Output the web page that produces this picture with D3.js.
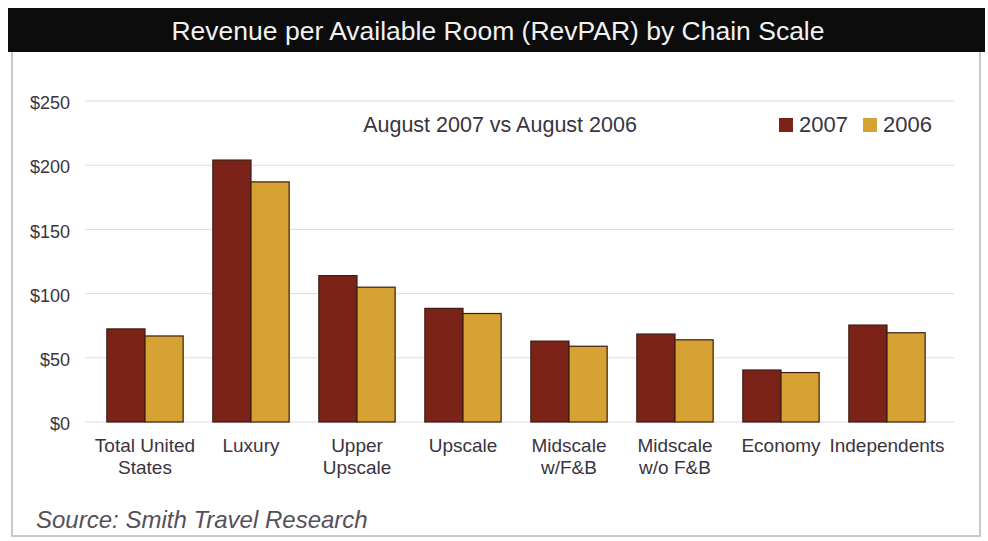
<!DOCTYPE html>
<html>
<head>
<meta charset="utf-8">
<script src="https://cdn.jsdelivr.net/npm/d3@7"></script>
<style>
  body { margin: 0; background: #fff; }
  text { font-family: "Liberation Sans", Arial, Helvetica, sans-serif; }
</style>
</head>
<body>
<div id="chart"></div>
<script>
// chart data
const categories = ['Total United States', 'Luxury', 'Upper Upscale', 'Upscale',
    'Midscale w/F&B', 'Midscale w/o F&B', 'Economy', 'Independents'];
const categoryLines = [['Total United', 'States'], ['Luxury'], ['Upper', 'Upscale'], ['Upscale'],
    ['Midscale', 'w/F&B'], ['Midscale', 'w/o F&B'], ['Economy'], ['Independents']];
const series = ['2007', '2006'];
const values2007 = [72.5, 204, 114, 88.5, 63, 68.5, 40.5, 75.5];
const values2006 = [67, 187, 105, 84.5, 59, 64, 38.5, 69.5];
const yTicks = [0, 50, 100, 150, 200, 250];

const colors = { '2007': '#7b2318', '2006': '#d5a233' };

const W = 988, H = 541;

const svg = d3.select('#chart')
    .append('svg')
    .attr('width', W)
    .attr('height', H);

// frame and title bar
svg.append('rect')
    .attr('x', 12).attr('y', 40)
    .attr('width', 968).attr('height', 496)
    .attr('fill', '#fff')
    .attr('stroke', '#b9b4c0')
    .attr('stroke-width', 1.5);

svg.append('rect')
    .attr('x', 8).attr('y', 8)
    .attr('width', 977).attr('height', 44)
    .attr('fill', '#0c0c0c');

svg.append('text')
    .attr('x', 498).attr('y', 40)
    .attr('text-anchor', 'middle')
    .attr('fill', '#f2f2f2')
    .style('font-size', '26.5px')
    .text('Revenue per Available Room (RevPAR) by Chain Scale');

// scales
const y = d3.scaleLinear()
    .domain([0, 250])
    .range([422, 101]);

const x0 = d3.scaleBand()
    .domain(categories)
    .range([92, 940])
    .paddingInner(0.28)
    .paddingOuter(0.14);

const x1 = d3.scaleBand()
    .domain(series)
    .range([0, x0.bandwidth()]);

// gridlines
svg.append('g')
    .selectAll('line')
    .data(yTicks)
    .enter().append('line')
    .attr('x1', 85).attr('x2', 954)
    .attr('y1', d => y(d)).attr('y2', d => y(d))
    .attr('stroke', '#dcdbe4')
    .attr('stroke-width', 1);

// y axis
const yAxis = svg.append('g')
    .attr('transform', 'translate(70,2)')
    .call(d3.axisLeft(y).tickValues(yTicks).tickFormat(d => '$' + d).tickSize(0).tickPadding(0));
yAxis.select('.domain').remove();
yAxis.selectAll('text')
    .attr('fill', '#3a3440')
    .style('font-size', '18px')
    .style('font-family', '"Liberation Sans", Arial, sans-serif');

// bars
const rows = categories.map((c, i) => ({ cat: c, vals: [
    { key: '2007', v: values2007[i] },
    { key: '2006', v: values2006[i] }
] }));

const groups = svg.append('g')
    .selectAll('g')
    .data(rows)
    .enter().append('g')
    .attr('transform', d => `translate(${x0(d.cat)},0)`);

groups.selectAll('rect')
    .data(d => d.vals)
    .enter().append('rect')
    .attr('x', d => x1(d.key))
    .attr('y', d => y(d.v))
    .attr('width', x1.bandwidth())
    .attr('height', d => y(0) - y(d.v))
    .attr('fill', d => colors[d.key])
    .attr('stroke', '#3b1c12')
    .attr('stroke-width', 1.2);

// category labels
const catLabels = svg.append('g')
    .selectAll('text')
    .data(categories)
    .enter().append('text')
    .attr('x', d => x0(d) + x0.bandwidth() / 2)
    .attr('y', 452)
    .attr('text-anchor', 'middle')
    .attr('fill', '#3a3440')
    .style('font-size', '19px');

catLabels.selectAll('tspan')
    .data((d, i) => categoryLines[i])
    .enter().append('tspan')
    .attr('x', function () { return d3.select(this.parentNode).attr('x'); })
    .attr('dy', (d, i) => i === 0 ? 0 : 22)
    .text(d => d);

// subtitle
svg.append('text')
    .attr('x', 500).attr('y', 132)
    .attr('text-anchor', 'middle')
    .attr('fill', '#3a3440')
    .style('font-size', '21.5px')
    .text('August 2007 vs August 2006');

// legend
const legend = svg.append('g')
    .selectAll('g')
    .data(series)
    .enter().append('g')
    .attr('transform', (d, i) => `translate(${779 + i * 84},118)`);

legend.append('rect')
    .attr('width', 14).attr('height', 14)
    .attr('fill', d => colors[d]);

legend.append('text')
    .attr('x', 20).attr('y', 14)
    .attr('fill', '#3a3440')
    .style('font-size', '22px')
    .text(d => d);

// source
svg.append('text')
    .attr('x', 36).attr('y', 528)
    .attr('fill', '#55505a')
    .style('font-size', '24px')
    .style('font-style', 'italic')
    .text('Source: Smith Travel Research');
</script>
</body>
</html>
